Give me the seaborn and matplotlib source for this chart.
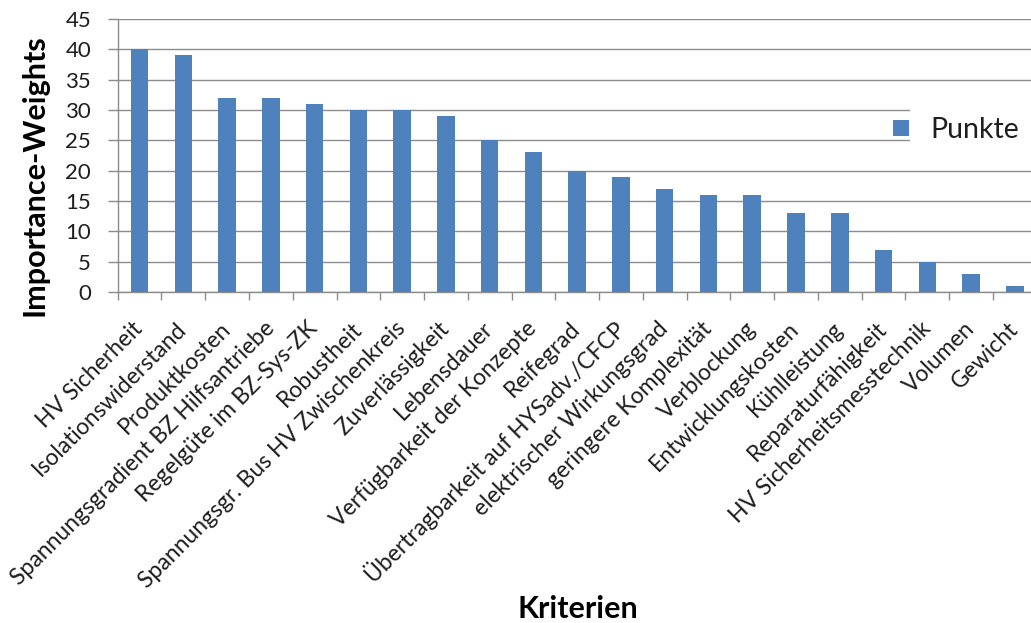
import matplotlib
matplotlib.use("Agg")
import matplotlib.pyplot as plt
import numpy as np
import pandas as pd
import seaborn as sns
from matplotlib.patches import Patch, Rectangle

# Criteria and their importance weights
kriterien = [
    "HV Sicherheit",
    "Isolationswiderstand",
    "Produktkosten",
    "Spannungsgradient BZ Hilfsantriebe",
    "Regelgüte im BZ-Sys-ZK",
    "Robustheit",
    "Spannungsgr. Bus HV Zwischenkreis",
    "Zuverlässigkeit",
    "Lebensdauer",
    "Verfügbarkeit der Konzepte",
    "Reifegrad",
    "Übertragbarkeit auf HYSadv./CFCP",
    "elektrischer Wirkungsgrad",
    "geringere Komplexität",
    "Verblockung",
    "Entwicklungskosten",
    "Kühlleistung",
    "Reparaturfähigkeit",
    "HV Sicherheitsmesstechnik",
    "Volumen",
    "Gewicht",
]
punkte = [40, 39, 32, 32, 31, 30, 30, 29, 25, 23, 20, 19, 17, 16, 16, 13, 13, 7, 5, 3, 1]
y_ticks = [0, 5, 10, 15, 20, 25, 30, 35, 40, 45]
series_name = "Punkte"
x_title = "Kriterien"
y_title = "Importance-Weights"

BAR = "#4F81BD"
GRID = "#8C8C8C"
TEXT = "#1E1E1E"

sns.set_style("white")
plt.rcParams["font.family"] = ["Lato", "DejaVu Sans"]

W, H = 1031, 623
fig = plt.figure(figsize=(W / 100, H / 100), dpi=100)
ax = fig.add_axes([117.7 / W, 1 - 292 / H, 919 / W, 273 / H])

df = pd.DataFrame({"Kriterien": kriterien, "Punkte": punkte})
sns.barplot(data=df, x="Kriterien", y="Punkte", color=BAR, saturation=1,
            width=0.4, linewidth=0, ax=ax, zorder=3)

n = len(kriterien)
ax.set_xlim(-0.5, n - 0.5)
ax.set_ylim(y_ticks[0], y_ticks[-1])
ax.set_yticks(y_ticks)
ax.set_xlabel("")
ax.set_ylabel("")

# category labels at the bar centres, tick marks on the category borders
ax.set_xticks(np.arange(n))
ax.set_xticklabels(kriterien, rotation=45, ha="right", va="center",
                   rotation_mode="anchor", fontsize=16.5, color=TEXT)
ax.set_xticks(np.arange(-0.5, n, 1), minor=True)
ax.tick_params(axis="x", which="major", length=0, pad=24)
ax.tick_params(axis="x", which="minor", length=6, width=1.0, color=GRID,
               direction="out", bottom=True)
ax.tick_params(axis="y", length=7.2, width=1.0, color=GRID, pad=12,
               labelsize=16, labelcolor=TEXT, left=True)

ax.yaxis.grid(True, color=GRID, linewidth=1.0, zorder=0)
ax.xaxis.grid(False)
ax.set_axisbelow(True)
for side in ("top", "right"):
    ax.spines[side].set_visible(False)
for side in ("left", "bottom"):
    ax.spines[side].set_color(GRID)
    ax.spines[side].set_linewidth(1.0)

# axis titles
fig.text(35 / W, 1 - 175 / H, y_title, rotation=90, ha="center", va="center",
         fontsize=22, fontweight="bold", color="black")
fig.text(578 / W, 1 - 618 / H, x_title, ha="center", va="baseline",
         fontsize=22, fontweight="bold", color="black")

# legend area: white panel over the grid, then the entry
fig.patches.append(Rectangle((910 / W, 1 - 160 / H), 130 / W, 65 / H,
                             transform=fig.transFigure, facecolor="white",
                             edgecolor="none", zorder=2))
handle = Patch(facecolor=BAR, edgecolor="none", label=series_name)
leg = fig.legend(handles=[handle], loc="center left",
                 bbox_to_anchor=(893 / W, 1 - 130 / H), frameon=False,
                 fontsize=20.5, handlelength=0.55, handleheight=0.5,
                 handletextpad=0.75, borderpad=0, borderaxespad=0)
leg.set_zorder(5)
for t in leg.get_texts():
    t.set_color(TEXT)

fig.savefig("out.png", dpi=100)
